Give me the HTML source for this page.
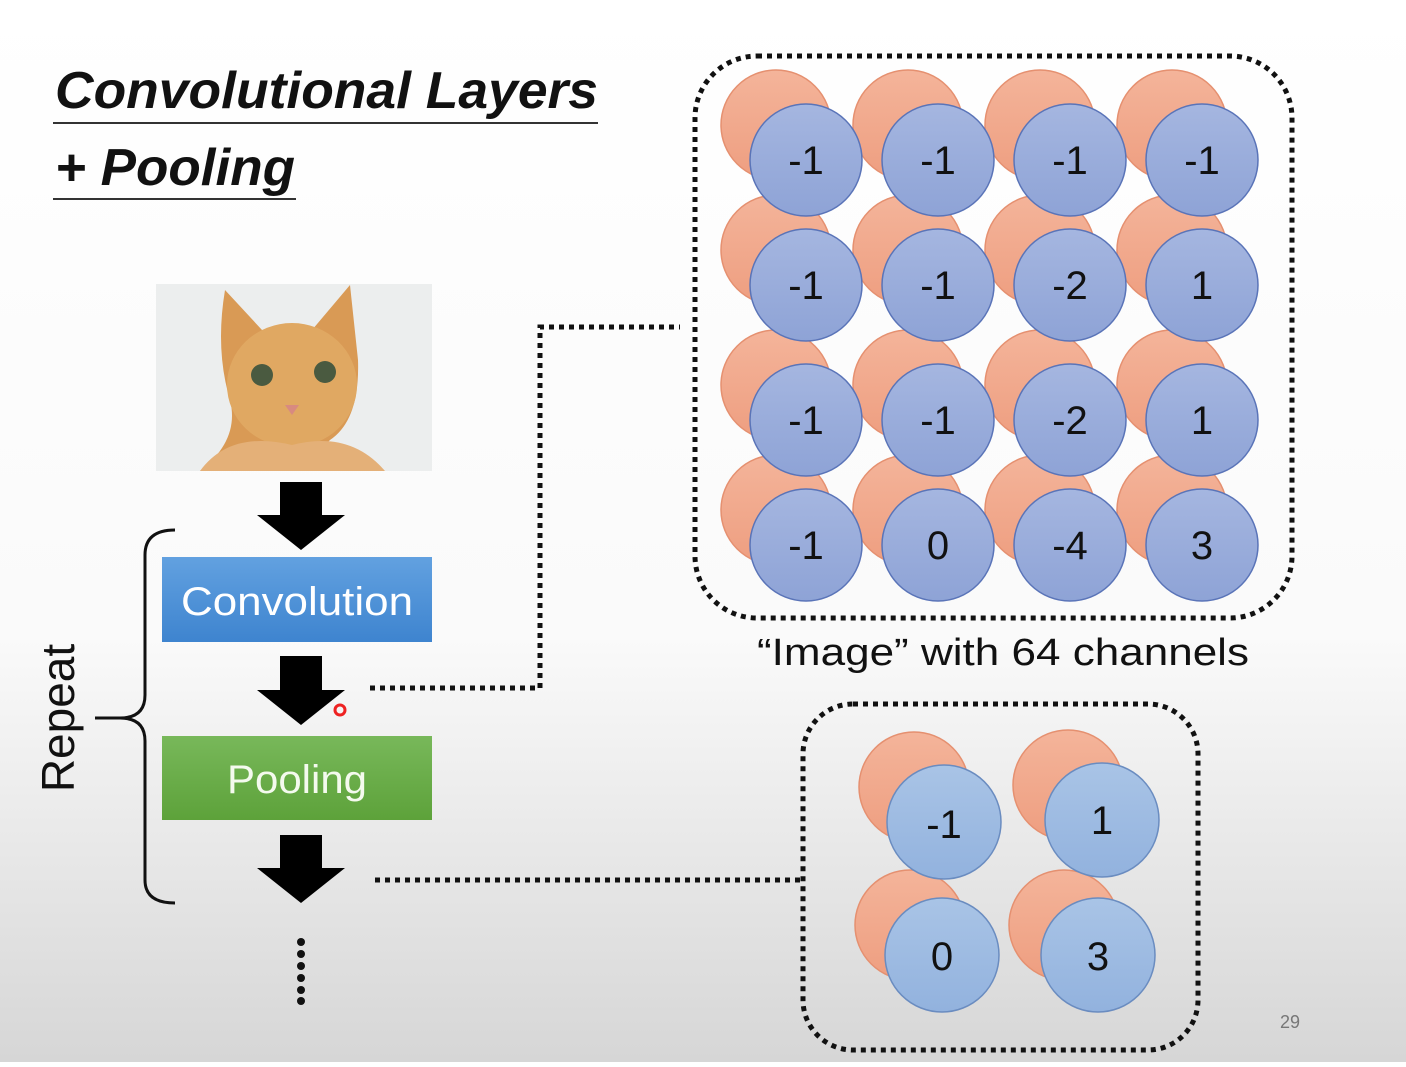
<!DOCTYPE html>
<html><head><meta charset="utf-8"><style>
html,body{margin:0;padding:0}
body{width:1406px;height:1062px;overflow:hidden;font-family:"Liberation Sans","DejaVu Sans",sans-serif}
</style></head><body>
<svg width="1406" height="1062" viewBox="0 0 1406 1062" xmlns="http://www.w3.org/2000/svg" font-family="Liberation Sans, DejaVu Sans, sans-serif">
<defs>
<linearGradient id="bg" x1="0" y1="0" x2="0" y2="1">
<stop offset="0" stop-color="#ffffff"/><stop offset="0.6" stop-color="#fafafa"/><stop offset="1" stop-color="#d6d6d6"/>
</linearGradient>
<linearGradient id="bl" x1="0" y1="0" x2="0" y2="1"><stop offset="0" stop-color="#a5b6e0"/><stop offset="1" stop-color="#8ea3d6"/></linearGradient>
<linearGradient id="bl2" x1="0" y1="0" x2="0" y2="1"><stop offset="0" stop-color="#a9c4e6"/><stop offset="1" stop-color="#92b2de"/></linearGradient>
<linearGradient id="or" x1="0" y1="0" x2="0" y2="1"><stop offset="0" stop-color="#f4b49a"/><stop offset="1" stop-color="#ee9e80"/></linearGradient>
<linearGradient id="cv" x1="0" y1="0" x2="0" y2="1"><stop offset="0" stop-color="#62a1e0"/><stop offset="1" stop-color="#3e84cf"/></linearGradient>
<linearGradient id="pl" x1="0" y1="0" x2="0" y2="1"><stop offset="0" stop-color="#78b85a"/><stop offset="1" stop-color="#5da23a"/></linearGradient>
</defs>
<rect width="1406" height="1062" fill="url(#bg)"/>
<text x="55" y="108" font-size="52" font-weight="bold" font-style="italic" fill="#111" textLength="543" lengthAdjust="spacingAndGlyphs">Convolutional Layers</text>
<line x1="53" y1="123" x2="598" y2="123" stroke="#333" stroke-width="2"/>
<text x="55" y="185" font-size="52" font-weight="bold" font-style="italic" fill="#111" textLength="240" lengthAdjust="spacingAndGlyphs">+ Pooling</text>
<line x1="53" y1="199" x2="296" y2="199" stroke="#333" stroke-width="2"/>
<!-- cat -->
<rect x="156" y="284" width="276" height="187" fill="#eceeee"/>
<path d="M225 290 L262 330 L312 330 L350 285 L358 360 Q360 420 330 440 L300 471 L200 471 Q240 440 230 400 Q215 350 225 290Z" fill="#d99a55"/>
<ellipse cx="292" cy="385" rx="65" ry="62" fill="#e0a862"/>
<circle cx="262" cy="375" r="11" fill="#4a5a40"/><circle cx="325" cy="372" r="11" fill="#4a5a40"/>
<path d="M285 405 L299 405 L292 415Z" fill="#d88a80"/>
<path d="M200 471 Q230 430 292 445 Q350 430 385 471Z" fill="#e4b078"/>
<!-- arrows -->
<g fill="#000">
<path d="M280 482 H322 V515 H345 L301 550 L257 515 H280Z"/>
<path d="M280 656 H322 V690 H345 L301 725 L257 690 H280Z"/>
<path d="M280 835 H322 V868 H345 L301 903 L257 868 H280Z"/>
</g>
<circle cx="340" cy="710" r="5" fill="none" stroke="#e22" stroke-width="3"/>
<rect x="162" y="557" width="270" height="85" fill="url(#cv)"/>
<text x="297" y="615" font-size="40" fill="#fff" text-anchor="middle" textLength="232" lengthAdjust="spacingAndGlyphs">Convolution</text>
<rect x="162" y="736" width="270" height="84" fill="url(#pl)"/>
<text x="297" y="793" font-size="40" fill="#f4faee" text-anchor="middle" textLength="140" lengthAdjust="spacingAndGlyphs">Pooling</text>
<path d="M175 530 Q145 530 145 555 V695 Q145 718 120 718 H95 M120 718 Q145 718 145 741 V880 Q145 903 175 903" fill="none" stroke="#111" stroke-width="3"/>
<text transform="translate(74,718) rotate(-90)" font-size="46" text-anchor="middle" fill="#111">Repeat</text>
<g fill="#111"><circle cx="301" cy="942" r="4"/><circle cx="301" cy="954" r="4"/><circle cx="301" cy="966" r="4"/><circle cx="301" cy="978" r="4"/><circle cx="301" cy="990" r="4"/><circle cx="301" cy="1001" r="4"/></g>
<g fill="none" stroke="#111" stroke-width="5" stroke-dasharray="5 5">
<path d="M370 688 H540 V327 H680"/>
<path d="M375 880 H800"/>
<rect x="695" y="56" width="597" height="562" rx="62"/>
<rect x="803" y="704" width="395" height="346" rx="50"/>
</g>
<!-- big grid -->
<g stroke-width="1.5">
<g fill="url(#or)" stroke="#e59070">
<circle cx="776" cy="125" r="55"/><circle cx="908" cy="125" r="55"/><circle cx="1040" cy="125" r="55"/><circle cx="1172" cy="125" r="55"/>
<circle cx="776" cy="250" r="55"/><circle cx="908" cy="250" r="55"/><circle cx="1040" cy="250" r="55"/><circle cx="1172" cy="250" r="55"/>
<circle cx="776" cy="385" r="55"/><circle cx="908" cy="385" r="55"/><circle cx="1040" cy="385" r="55"/><circle cx="1172" cy="385" r="55"/>
<circle cx="776" cy="510" r="55"/><circle cx="908" cy="510" r="55"/><circle cx="1040" cy="510" r="55"/><circle cx="1172" cy="510" r="55"/>
</g>
<g fill="url(#bl)" stroke="#5a74b8">
<circle cx="806" cy="160" r="56"/><circle cx="938" cy="160" r="56"/><circle cx="1070" cy="160" r="56"/><circle cx="1202" cy="160" r="56"/>
<circle cx="806" cy="285" r="56"/><circle cx="938" cy="285" r="56"/><circle cx="1070" cy="285" r="56"/><circle cx="1202" cy="285" r="56"/>
<circle cx="806" cy="420" r="56"/><circle cx="938" cy="420" r="56"/><circle cx="1070" cy="420" r="56"/><circle cx="1202" cy="420" r="56"/>
<circle cx="806" cy="545" r="56"/><circle cx="938" cy="545" r="56"/><circle cx="1070" cy="545" r="56"/><circle cx="1202" cy="545" r="56"/>
</g>
</g>
<g font-size="40" fill="#111" text-anchor="middle">
<text x="806" y="174">-1</text><text x="938" y="174">-1</text><text x="1070" y="174">-1</text><text x="1202" y="174">-1</text>
<text x="806" y="299">-1</text><text x="938" y="299">-1</text><text x="1070" y="299">-2</text><text x="1202" y="299">1</text>
<text x="806" y="434">-1</text><text x="938" y="434">-1</text><text x="1070" y="434">-2</text><text x="1202" y="434">1</text>
<text x="806" y="559">-1</text><text x="938" y="559">0</text><text x="1070" y="559">-4</text><text x="1202" y="559">3</text>
</g>
<text x="757" y="665" font-size="38" fill="#111" textLength="492" lengthAdjust="spacingAndGlyphs">“Image” with 64 channels</text>
<!-- small grid -->
<g stroke-width="1.5">
<g fill="url(#or)" stroke="#e59070">
<circle cx="914" cy="787" r="55"/><circle cx="1068" cy="785" r="55"/><circle cx="910" cy="925" r="55"/><circle cx="1064" cy="925" r="55"/>
</g>
<g fill="url(#bl2)" stroke="#6a8cc0">
<circle cx="944" cy="822" r="57"/><circle cx="1102" cy="820" r="57"/><circle cx="942" cy="955" r="57"/><circle cx="1098" cy="955" r="57"/>
</g>
</g>
<g font-size="40" fill="#111" text-anchor="middle">
<text x="944" y="838">-1</text><text x="1102" y="834">1</text><text x="942" y="970">0</text><text x="1098" y="970">3</text>
</g>
<text x="1290" y="1028" font-size="18" fill="#777" text-anchor="middle">29</text>
</svg>
</body></html>
